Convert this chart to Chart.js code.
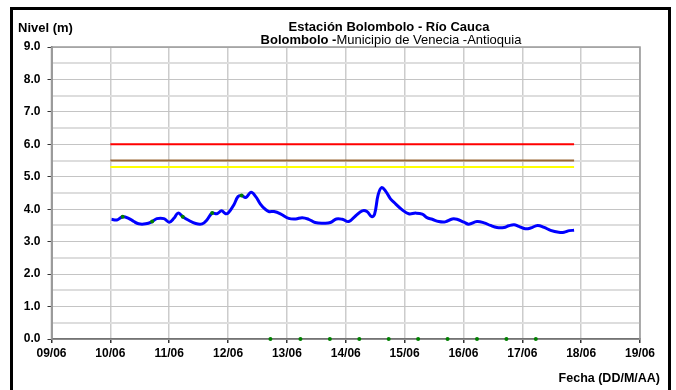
<!DOCTYPE html>
<html>
<head>
<meta charset="utf-8">
<script src="https://cdn.jsdelivr.net/npm/chart.js@4.4.0/dist/chart.umd.min.js"></script>
<style>
   html, body { margin: 0; padding: 0; background: #fff; }
   #wrap { width: 676px; height: 390px; }
</style>
</head>
<body>
<div id="wrap"><canvas id="myChart" width="676" height="390"></canvas></div>
<script>
// fechas en dias de junio (10.5 = 10/06 12:00)
const nivelDias = [10.02, 10.11, 10.21, 10.31, 10.40, 10.48, 10.60, 10.71, 10.79, 10.91,
   11.00, 11.08, 11.15, 11.23, 11.33, 11.45, 11.56, 11.64, 11.73, 11.81, 11.89, 11.96,
   12.01, 12.10, 12.17, 12.23, 12.30, 12.39, 12.47, 12.55, 12.63, 12.69, 12.78, 12.89,
   13.03, 13.15, 13.26, 13.37, 13.48, 13.63, 13.74, 13.84, 13.94,
   14.05, 14.17, 14.28, 14.36, 14.44, 14.49, 14.55, 14.61, 14.68, 14.76, 14.85, 14.96,
   15.07, 15.19, 15.30, 15.38, 15.47, 15.58, 15.69, 15.81, 15.89,
   16.01, 16.09, 16.23, 16.35, 16.46, 16.57, 16.69, 16.77, 16.86, 16.94,
   17.05, 17.14, 17.26, 17.37, 17.48, 17.62, 17.71, 17.80, 17.88];
const nivelValores = [3.69, 3.67, 3.77, 3.72, 3.62, 3.55, 3.55, 3.62, 3.71, 3.71,
   3.60, 3.72, 3.88, 3.77, 3.66, 3.56, 3.55, 3.67, 3.88, 3.86, 3.95, 3.86,
   3.90, 4.14, 4.39, 4.42, 4.36, 4.52, 4.39, 4.16, 4.00, 3.93, 3.93, 3.86,
   3.72, 3.70, 3.74, 3.69, 3.59, 3.57, 3.59, 3.70, 3.69,
   3.62, 3.80, 3.95, 3.93, 3.77, 3.85, 4.44, 4.67, 4.55, 4.32, 4.16, 3.98,
   3.86, 3.88, 3.85, 3.74, 3.69, 3.62, 3.61, 3.70, 3.69,
   3.60, 3.54, 3.62, 3.58, 3.50, 3.44, 3.44, 3.49, 3.52, 3.47,
   3.40, 3.42, 3.50, 3.44, 3.35, 3.29, 3.29, 3.34, 3.35];

const lecturaDias = [10.21, 10.71, 11.23, 11.73, 12.23, 12.72, 13.23, 13.73, 14.23, 14.73, 15.23, 15.73, 16.23, 16.73, 17.23];
const lecturaValores = [3.77, 3.62, 3.77, 3.88, 4.42, 0, 0, 0, 0, 0, 0, 0, 0, 0, 0];

const umbralDias = [10.0, 17.88];
const umbralRojo = 6.0;
const umbralNaranja = 5.5;
const umbralAmarillo = 5.3;

const etiquetasX = ['09/06', '10/06', '11/06', '12/06', '13/06', '14/06', '15/06', '16/06', '17/06', '18/06', '19/06'];

const FONT = '"Liberation Sans", Arial, sans-serif';

const toPoints = (xs, ys) => xs.map((x, i) => ({ x: x, y: ys[i] }));
const lineaUmbral = (v) => umbralDias.map((x) => ({ x: x, y: v }));

const marcoPlugin = {
   id: 'marco',
   beforeDatasetsDraw(chart) {
      const a = chart.chartArea;
      const c = chart.ctx;
      c.save();
      c.strokeStyle = '#9a9a9a';
      c.lineWidth = 1.5;
      c.strokeRect(a.left, a.top, a.right - a.left, a.bottom - a.top);
      c.restore();
   },
   afterDraw(chart) {
      const c = chart.ctx;
      c.save();
      c.strokeStyle = '#000';
      c.lineWidth = 3;
      c.strokeRect(11.5, 8.5, 658, 390);

      c.fillStyle = '#000';
      c.textBaseline = 'alphabetic';
      c.textAlign = 'left';
      c.font = 'bold 13px ' + FONT;
      c.fillText('Nivel (m)', 18, 32);

      c.textAlign = 'center';
      c.font = 'bold 13px ' + FONT;
      c.fillText('Estación Bolombolo - Río Cauca', 389, 30.5);

      // segunda linea: parte en negrita y parte normal
      const t1 = 'Bolombolo -';
      const t2 = 'Municipio de Venecia -Antioquia';
      c.font = 'bold 13px ' + FONT;
      const w1 = c.measureText(t1).width;
      c.font = '13px ' + FONT;
      const w2 = c.measureText(t2).width;
      const x0 = 391 - (w1 + w2) / 2;
      c.textAlign = 'left';
      c.font = 'bold 13px ' + FONT;
      c.fillText(t1, x0, 43.5);
      c.font = '13px ' + FONT;
      c.fillText(t2, x0 + w1, 43.5);

      c.textAlign = 'right';
      c.font = 'bold 12.5px ' + FONT;
      c.fillText('Fecha (DD/M/AA)', 660, 382);
      c.restore();
   }
};

const data = {
   datasets: [
      {
         data: toPoints(lecturaDias, lecturaValores),
         showLine: false,
         pointRadius: 2,
         pointBorderWidth: 0,
         pointBackgroundColor: '#008000',
         clip: false,
         order: 0,
      },
      {
         data: toPoints(nivelDias, nivelValores),
         borderColor: '#0000ff',
         borderWidth: 3,
         tension: 0.4,
         pointRadius: 0,
         order: 1,
      },
      {
         data: lineaUmbral(umbralRojo),
         borderColor: '#ff0000',
         borderWidth: 2,
         pointRadius: 0,
         order: 2,
      },
      {
         data: lineaUmbral(umbralNaranja),
         borderColor: '#996633',
         borderWidth: 2,
         pointRadius: 0,
         order: 2,
      },
      {
         data: lineaUmbral(umbralAmarillo),
         borderColor: '#ffff00',
         borderWidth: 2,
         pointRadius: 0,
         order: 2,
      },
   ]
};

const config = {
   type: 'line',
   data: data,
   plugins: [marcoPlugin],
   options: {
      responsive: false,
      animation: false,
      layout: {
         padding: { left: 11.5, right: 36, top: 47, bottom: 31 }
      },
      plugins: {
         legend: { display: false },
         tooltip: { enabled: false },
      },
      scales: {
         x: {
            type: 'linear',
            min: 9,
            max: 19,
            afterFit: (scale) => { scale.height = 20; },
            border: { color: '#000', width: 1.5 },
            grid: {
               color: '#cccccc',
               lineWidth: 1.5,
               tickColor: '#333',
               tickLength: 4,
            },
            ticks: {
               stepSize: 1,
               autoSkip: false,
               maxRotation: 0,
               padding: 3,
               color: '#000',
               font: { family: FONT, size: 12, weight: 'bold' },
               callback: (v) => etiquetasX[v - 9],
            },
         },
         y: {
            min: 0,
            max: 9,
            afterFit: (scale) => { scale.width = 40; },
            border: { color: '#555', width: 1.5 },
            grid: {
               color: (ctx) => (ctx.tick && Number.isInteger(ctx.tick.value) ? '#c4c4c4' : '#dddddd'),
               lineWidth: (ctx) => (ctx.tick && Number.isInteger(ctx.tick.value) ? 1 : 2),
               tickColor: (ctx) => (ctx.tick && Number.isInteger(ctx.tick.value) ? '#333' : 'rgba(0,0,0,0)'),
               tickLength: 4,
            },
            ticks: {
               stepSize: 0.5,
               autoSkip: false,
               padding: 7,
               color: '#000',
               font: { family: FONT, size: 12, weight: 'bold' },
               callback: (v) => (Number.isInteger(v) ? v.toFixed(1) : ''),
            },
         }
      }
   }
};

const ctx = document.getElementById('myChart').getContext('2d');
const myChart = new Chart(ctx, config);
</script>
</body>
</html>
